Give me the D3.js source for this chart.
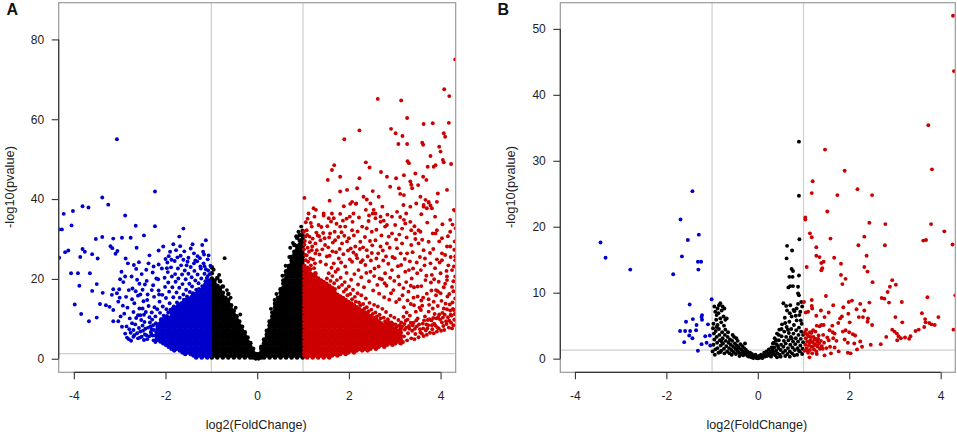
<!DOCTYPE html>
<html>
<head>
<meta charset="utf-8">
<script src="https://cdn.jsdelivr.net/npm/d3@7"></script>
<style>
body { margin: 0; background: #fff; }
svg { display: block; }
text { font-family: "Liberation Sans", Arial, Helvetica, sans-serif; }
</style>
</head>
<body>
<div id="chart"></div>
<script>
// ------------------------------- //
// Data
// ------------------------------- //

var xTicks = [-4, -2, 0, 2, 4]
var aYTicks = [0, 20, 40, 60, 80]
var bYTicks = [0, 10, 20, 30, 40, 50]
var fcCut = [-1, 1]      // log2 fold change cut-offs
var pCut = 1.3           // -log10(0.05)

// dense clouds: [x, y1, y2, ...] one column of points per entry
var aBlackCols = [
  [-0.99,0.3,1.2,2.1,3,3.9,4.8,5.7,6.6,7.5,8.4,9.3,10.2,11.1,12,12.9,13.8,14.7,15.6,16.5,17.4,18.3,19.2,20.1,21.4,22.9],
  [-0.93,0.8,1.6,2.5,3.5,4.3,5.3,6.1,7,8,8.8,9.8,10.6,11.6,12.4,13.4,14.2,15.2,16,17,17.8,18.8,19.6],
  [-0.87,0.3,1.2,2.1,3,3.9,4.8,5.7,6.6,7.5,8.4,9.3,10.2,11.1,12,12.9,13.8,14.7,15.6,16.5,17.4,18.3,20.2],
  [-0.81,0.8,1.6,2.5,3.5,4.3,5.3,6.1,7,8,8.8,9.8,10.6,11.6,12.4,13.4,14.2,15.2,16,17,17.8,19.4],
  [-0.75,0.3,1.2,2.1,3,3.9,4.8,5.7,6.6,7.5,8.4,9.3,10.2,11.1,12,12.9,13.8,14.7,15.6,16.5,18.1],
  [-0.69,0.8,1.6,2.5,3.5,4.3,5.3,6.1,7,8,8.8,9.8,10.6,11.6,12.4,13.4,14.2,15.2],
  [-0.63,0.3,1.2,2.1,3,3.9,4.8,5.7,6.6,7.5,8.4,9.3,10.2,11.1,12,12.9,13.8,14.7,16.2],
  [-0.57,0.8,1.6,2.5,3.5,4.3,5.3,6.1,7,8,8.8,9.8,10.6,11.6,12.4,13.4],
  [-0.51,0.3,1.2,2.1,3,3.9,4.8,5.7,6.6,7.5,8.4,9.3,10.2,11.1,12],
  [-0.45,0.8,1.6,2.5,3.5,4.3,5.3,6.1,7,8,8.8,9.8,10.6],
  [-0.39,0.3,1.2,2.1,3,3.9,4.8,5.7,6.6,7.5,8.4,9.3],
  [-0.33,0.8,1.6,2.5,3.5,4.3,5.3,6.1,7,8],
  [-0.27,0.3,1.2,2.1,3,3.9,4.8,5.7,6.6],
  [-0.21,0.8,1.6,2.5,3.5,4.3,5.3],
  [-0.15,0.3,1.2,2.1,3,3.9],
  [-0.09,0.3,0.8,1.6,2.5],
  [-0.03,0.1,0.6,1.2],
  [0.03,0.1,0.6,1.1],
  [0.09,0.3,0.8,1.6,2.5,3],
  [0.15,0.3,1.2,2.1,3,3.9,4.8],
  [0.21,0.8,1.6,2.5,3.5,4.3,5.3,6.1,7],
  [0.27,0.3,1.2,2.1,3,3.9,4.8,5.7,6.6,7.5,8.4,9.3],
  [0.33,0.8,1.6,2.5,3.5,4.3,5.3,6.1,7,8,8.8,9.8,10.6,11.6],
  [0.39,0.3,1.2,2.1,3,3.9,4.8,5.7,6.6,7.5,8.4,9.3,10.2,11.1,12,12.9,13.8],
  [0.45,0.8,1.6,2.5,3.5,4.3,5.3,6.1,7,8,8.8,9.8,10.6,11.6,12.4,13.4,14.2,15.2],
  [0.51,0.3,1.2,2.1,3,3.9,4.8,5.7,6.6,7.5,8.4,9.3,10.2,11.1,12,12.9,13.8,14.7,15.6,16.5,17.4],
  [0.57,0.8,1.6,2.5,3.5,4.3,5.3,6.1,7,8,8.8,9.8,10.6,11.6,12.4,13.4,14.2,15.2,16,17,17.8,18.8,19.6],
  [0.63,0.3,1.2,2.1,3,3.9,4.8,5.7,6.6,7.5,8.4,9.3,10.2,11.1,12,12.9,13.8,14.7,15.6,16.5,17.4,18.3,19.2,20.1,21,21.9],
  [0.69,0.8,1.6,2.5,3.5,4.3,5.3,6.1,7,8,8.8,9.8,10.6,11.6,12.4,13.4,14.2,15.2,16,17,17.8,18.8,19.6,20.6,21.4,22.4,23.2],
  [0.75,0.3,1.2,2.1,3,3.9,4.8,5.7,6.6,7.5,8.4,9.3,10.2,11.1,12,12.9,13.8,14.7,15.6,16.5,17.4,18.3,19.2,20.1,21,21.9,22.8,23.7,24.6,25.5],
  [0.81,0.8,1.6,2.5,3.5,4.3,5.3,6.1,7,8,8.8,9.8,10.6,11.6,12.4,13.4,14.2,15.2,16,17,17.8,18.8,19.6,20.6,21.4,22.4,23.2,24.2,25,26,26.8,28.5],
  [0.87,0.3,1.2,2.1,3,3.9,4.8,5.7,6.6,7.5,8.4,9.3,10.2,11.1,12,12.9,13.8,14.7,15.6,16.5,17.4,18.3,19.2,20.1,21,21.9,22.8,23.7,24.6,25.5,26.4,27.3,28.2,30.3],
  [0.93,0.8,1.6,2.5,3.5,4.3,5.3,6.1,7,8,8.8,9.8,10.6,11.6,12.4,13.4,14.2,15.2,16,17,17.8,18.8,19.6,20.6,21.4,22.4,23.2,24.2,25,26,26.8,27.8,28.6,29.6,31],
  [0.99,0.3,1.2,2.1,3,3.9,4.8,5.7,6.6,7.5,8.4,9.3,10.2,11.1,12,12.9,13.8,14.7,15.6,16.5,17.4,18.3,19.2,20.1,21,21.9,22.8,23.7,24.6,25.5,26.4,27.3,28.2,29.1,30,30.9,32]
]

var aBlueCols = [
  [-1.03,0.8,1.6,2.5,3.5,4.3,5.3,6.1,7,8,8.8,9.8,10.6,11.6,12.4,13.4,14.2,15.2,16,17,17.8,18.8],
  [-1.09,0.3,1.2,2.1,3,3.9,4.8,5.7,6.6,7.5,8.4,9.3,10.2,11.1,12,12.9,13.8,14.7,15.6,16.5,17.4,18.3],
  [-1.15,0.8,1.6,2.5,3.5,4.3,5.3,6.1,7,8,8.8,9.8,10.6,11.6,12.4,13.4,14.2,15.2,16,17,17.8],
  [-1.21,0.3,1.2,2.1,3,3.9,4.8,5.7,6.6,7.5,8.4,9.3,10.2,11.1,12,12.9,13.8,14.7,15.6,16.5],
  [-1.27,0.8,1.6,2.5,3.5,4.3,5.3,6.1,7,8,8.8,9.8,10.6,11.6,12.4,13.4,14.2,15.2,16],
  [-1.33,0.3,1.2,2.1,3,3.9,4.8,5.7,6.6,7.5,8.4,9.3,10.2,11.1,12,12.9,13.8,14.7,15.6],
  [-1.39,0.8,1.6,2.5,3.5,4.3,5.3,6.1,7,8,8.8,9.8,10.6,11.6,12.4,13.4,14.2,15.2],
  [-1.45,1.2,2.1,3,3.9,4.8,5.7,6.6,7.5,8.4,9.3,10.2,11.1,12,12.9,13.8,14.7],
  [-1.51,1.6,2.5,3.5,4.3,5.3,6.1,7,8,8.8,9.8,10.6,11.6,12.4,13.4,14.2],
  [-1.57,1.2,2.1,3,3.9,4.8,5.7,6.6,7.5,8.4,9.3,10.2,11.1,12,12.9,13.8],
  [-1.63,1.6,2.5,3.5,4.3,5.3,6.1,7,8,8.8,9.8,10.6,11.6,12.4,13.4],
  [-1.69,2.1,3,3.9,4.8,5.7,6.6,7.5,8.4,9.3,10.2,11.1,12,12.9],
  [-1.75,2.5,3.5,4.3,5.3,6.1,7,8,8.8,9.8,10.6,11.6,12.4],
  [-1.81,2.1,3,3.9,4.8,5.7,6.6,7.5,8.4,9.3,10.2,11.1,12],
  [-1.87,2.5,3.5,4.3,5.3,6.1,7,8,8.8,9.8,10.6,11.6],
  [-1.93,3,3.9,4.8,5.7,6.6,7.5,8.4,9.3,10.2],
  [-1.99,3.5,4.3,5.3,6.1,7,8,8.8,9.8],
  [-2.05,3.9,4.8,5.7,6.6,7.5,8.4,9.3],
  [-2.11,4.3,5.3,6.1,7,8,8.8],
  [-2.17,4.8,5.7,6.6,7.5]
]

var aRedCols = [
  [1.03,0.8,1.6,2.5,3.5,4.3,5.3,6.1,7,8,8.8,9.8,10.6,11.6,12.4,13.4,14.2,15.2,16,17,17.8,18.8,19.6,20.6,21.4,22.4,23.2],
  [1.09,0.3,1.2,2.1,3,3.9,4.8,5.7,6.6,7.5,8.4,9.3,10.2,11.1,12,12.9,13.8,14.7,15.6,16.5,17.4,18.3,19.2,20.1,21,21.9,22.8],
  [1.15,0.8,1.6,2.5,3.5,4.3,5.3,6.1,7,8,8.8,9.8,10.6,11.6,12.4,13.4,14.2,15.2,16,17,17.8,18.8,19.6,20.6,21.4,22.4],
  [1.21,0.3,1.2,2.1,3,3.9,4.8,5.7,6.6,7.5,8.4,9.3,10.2,11.1,12,12.9,13.8,14.7,15.6,16.5,17.4,18.3,19.2,20.1,21],
  [1.27,0.8,1.6,2.5,3.5,4.3,5.3,6.1,7,8,8.8,9.8,10.6,11.6,12.4,13.4,14.2,15.2,16,17,17.8,18.8,19.6,20.6,21.4],
  [1.33,0.3,1.2,2.1,3,3.9,4.8,5.7,6.6,7.5,8.4,9.3,10.2,11.1,12,12.9,13.8,14.7,15.6,16.5,17.4,18.3,19.2,20.1],
  [1.39,0.8,1.6,2.5,3.5,4.3,5.3,6.1,7,8,8.8,9.8,10.6,11.6,12.4,13.4,14.2,15.2,16,17,17.8,18.8,19.6],
  [1.45,0.3,1.2,2.1,3,3.9,4.8,5.7,6.6,7.5,8.4,9.3,10.2,11.1,12,12.9,13.8,14.7,15.6,16.5,17.4,18.3,19.2],
  [1.51,0.8,1.6,2.5,3.5,4.3,5.3,6.1,7,8,8.8,9.8,10.6,11.6,12.4,13.4,14.2,15.2,16,17,17.8,18.8],
  [1.57,0.3,1.2,2.1,3,3.9,4.8,5.7,6.6,7.5,8.4,9.3,10.2,11.1,12,12.9,13.8,14.7,15.6,16.5,17.4,18.3],
  [1.63,0.8,1.6,2.5,3.5,4.3,5.3,6.1,7,8,8.8,9.8,10.6,11.6,12.4,13.4,14.2,15.2,16,17,17.8],
  [1.69,1.2,2.1,3,3.9,4.8,5.7,6.6,7.5,8.4,9.3,10.2,11.1,12,12.9,13.8,14.7,15.6,16.5,17.4],
  [1.75,0.8,1.6,2.5,3.5,4.3,5.3,6.1,7,8,8.8,9.8,10.6,11.6,12.4,13.4,14.2,15.2,16],
  [1.81,1.2,2.1,3,3.9,4.8,5.7,6.6,7.5,8.4,9.3,10.2,11.1,12,12.9,13.8,14.7,15.6],
  [1.87,1.6,2.5,3.5,4.3,5.3,6.1,7,8,8.8,9.8,10.6,11.6,12.4,13.4,14.2,15.2],
  [1.93,1.2,2.1,3,3.9,4.8,5.7,6.6,7.5,8.4,9.3,10.2,11.1,12,12.9,13.8,14.7],
  [1.99,1.6,2.5,3.5,4.3,5.3,6.1,7,8,8.8,9.8,10.6,11.6,12.4,13.4,14.2],
  [2.05,2.1,3,3.9,4.8,5.7,6.6,7.5,8.4,9.3,10.2,11.1,12,12.9,13.8],
  [2.11,1.6,2.5,3.5,4.3,5.3,6.1,7,8,8.8,9.8,10.6,11.6,12.4,13.4],
  [2.17,2.1,3,3.9,4.8,5.7,6.6,7.5,8.4,9.3,10.2,11.1,12,12.9],
  [2.23,2.5,3.5,4.3,5.3,6.1,7,8,8.8,9.8,10.6,11.6,12.4],
  [2.29,2.1,3,3.9,4.8,5.7,6.6,7.5,8.4,9.3,10.2,11.1,12],
  [2.35,2.5,3.5,4.3,5.3,6.1,7,8,8.8,9.8,10.6,11.6],
  [2.41,2.1,3,3.9,4.8,5.7,6.6,7.5,8.4,9.3,10.2,11.1],
  [2.47,2.5,3.5,4.3,5.3,6.1,7,8,8.8,9.8,10.6],
  [2.53,3,3.9,4.8,5.7,6.6,7.5,8.4,9.3,10.2],
  [2.59,2.5,3.5,4.3,5.3,6.1,7,8,8.8,9.8],
  [2.65,3,3.9,4.8,5.7,6.6,7.5,8.4,9.3],
  [2.71,3.5,4.3,5.3,6.1,7,8,8.8],
  [2.77,3,3.9,4.8,5.7,6.6,7.5,8.4],
  [2.83,3.5,4.3,5.3,6.1,7,8,8.8],
  [2.89,3.9,4.8,5.7,6.6,7.5,8.4],
  [2.95,3.5,4.3,5.3,6.1,7,8],
  [3.01,3.9,4.8,5.7,6.6,7.5],
  [3.07,4.3,5.3,6.1,7],
  [3.13,3.9,4.8,5.7,6.6,7.5]
]

// loose points: [log2FC, -log10 p]
var aBlackPts = [[-0.71,25.2],[-0.37,11.1],[-0.95,22.3],[-0.83,21],[-0.66,17.2],[-0.58,15.3],[-0.47,12.8],
  [0.3,12.5],[0.38,14.7],[0.42,16.2],[0.55,20.8],[0.62,23.3],[0.7,25.5],[0.72,27.8],[0.78,29],[0.85,30.7],[0.9,31.8],[0.96,33.1]]

var aBluePts = [[-3.06,55],[-2.23,41.9],[-4.22,36.3],[-4.02,37],[-4.32,32.4],[-4.26,32.4],[-4.05,33.4],[-3.81,38.2],[-3.68,37.9],
  [-3.38,40.4],[-3.25,38.6],[-2.88,35.9],[-2.65,33.3],[-2.23,33.2],[-1.61,32.6],[-4.19,26.7],[-4.12,27.1],[-4.32,25.3],[-3.81,27.5],
  [-3.76,26.8],[-3.52,30],[-3.38,30.5],[-3.14,30.1],[-2.95,30.3],[-2.76,30.3],[-2.47,30.9],[-3.2,28.2],[-3.16,27.7],[-3.09,26.3],
  [-3.05,27],[-2.63,27.8],[-3.86,25.5],[-3.6,26.2],[-3.48,25.1],[-4.06,21.4],[-3.91,21.4],[-3.65,21.4],[-3.88,18.3],[-3.6,17],
  [-3.5,18.7],[-3.37,16.5],[-3.98,13.6],[-3.84,11.2],[-3.67,9.4],[-3.5,10.3],[-3.43,13.7],[-3.3,13.4],[-3.22,13],[-3.14,17.4],
  [-3.01,17.4],[-3.17,16],[-3.06,16.4],[-3.14,12.2],[-3.03,14.3],[-3.14,9.4],[-3.03,9.4],[-2.95,8],[-2.87,25.1],[-2.82,23.9],
  [-2.69,23.5],[-2.64,22.5],[-2.88,20.6],[-2.74,20.6],[-2.84,5.3],[-2.75,4.5],[-2.8,4.9],[-2.7,7.2],[-2.7,5.5],[-2.55,10.9],
  [-2.43,11.7],[-2.37,23.9],[-2.26,23.1],[-2.15,27.1],[-2.05,28.1],[-1.93,25.7],[-1.83,28.7],[-1.77,27.2],[-1.7,30.6],[-1.61,24.8],
  [-1.5,25.3],[-1.38,23.9],[-1.3,25.7],[-1.2,28.5],[-1.12,29.7],[-1.24,23.1],[-1.15,23.2],[-1.08,20.7],
  [-2.92,19.2],[-2.86,15.5],[-2.83,12.8],[-2.78,10.1],[-2.72,17.6],[-2.68,13.9],[-2.66,8.6],[-2.62,19.8],[-2.6,15.8],[-2.57,12.6],
  [-2.55,6.8],[-2.52,21.2],[-2.5,17.3],[-2.48,14.4],[-2.46,9.2],[-2.44,7.5],[-2.41,19.5],[-2.39,16.1],[-2.37,13.2],[-2.35,10.4],
  [-2.33,8.1],[-2.31,6.2],[-2.96,21.8],[-2.9,11.3],[-2.76,6.5],[-2.58,24.2],[-2.52,5.5],[-2.42,22.3],
  [-2.28,21.6],[-2.27,18.4],[-2.25,15.5],[-2.24,12.9],[-2.22,10.6],[-2.21,8.9],[-2.2,6.6],[-2.19,5.1],[-2.16,19.9],[-2.15,17.1],
  [-2.13,14.3],[-2.12,11.5],[-2.1,9.9],[-2.08,22.6],[-2.07,16],[-2.06,13.1],[-2.04,10.8],[-2.02,20.3],[-2.01,18],[-1.99,15.2],
  [-1.98,12.4],[-1.96,24.1],[-1.95,21.7],[-1.94,19.1],[-1.92,16.8],[-1.91,13.9],[-1.89,11.9],[-1.88,22.9],[-1.86,20.6],[-1.85,17.9],
  [-1.83,15.4],[-1.82,13.1],[-1.8,24.5],[-1.79,21.2],[-1.78,19.3],[-1.76,16.6],[-1.75,14.1],[-1.73,22.6],[-1.72,20.1],[-1.7,17.8],
  [-1.69,15.3],[-1.67,25.8],[-1.66,23.4],[-1.64,21.1],[-1.63,18.7],[-1.61,16.1],[-1.6,14.8],[-1.58,22.1],[-1.56,19.9],[-1.55,17.3],
  [-1.53,15.6],[-1.52,24.3],[-1.5,21.3],[-1.48,18.8],[-1.47,16.7],[-1.45,23],[-1.43,20.4],[-1.42,18.1],[-1.4,16.4],[-1.38,26.4],
  [-1.37,22],[-1.35,19.6],[-1.33,17.3],[-1.31,24.4],[-1.3,21.1],[-1.28,18.9],[-1.27,17.5],[-1.25,25.2],[-1.23,22.6],[-1.22,20.1],
  [-1.2,18.2],[-1.18,26.8],[-1.17,23.9],[-1.15,21.3],[-1.13,19.4],[-1.12,22.4],[-1.1,20.2],[-1.08,24.9],[-1.07,22.1],[-1.05,19.6],
  [-1.04,21.2],[-1.02,23.3],[-1.45,27.6],[-1.9,26.8],[-2.35,25.9],[-1.68,28.2],[-2,25],
  [-2.26,4.6],[-2.3,7.4],[-2.36,5.6],[-2.4,4.9],[-2.45,6.1],[-2.5,8.3],[-2.56,5.3],[-2.62,6.4],[-2.64,10.2],[-2.34,9.1],[-2.28,5.8],[-2.22,4.2],
  [-1.06,19.6],[-1.11,19],[-1.14,18.6],[-1.19,17.6],[-1.24,17.2],[-1.29,16.8],[-1.32,16.4],[-1.36,16.2],[-1.41,15.9],[-1.44,15.4],
  [-1.49,15.1],[-1.54,14.9],[-1.59,14.4],[-1.62,14.1],[-1.66,13.9],[-1.71,13.6],[-1.74,13.2],[-1.78,12.7],[-1.84,12.6],[-1.89,12.3],
  [-1.94,11.6],[-1.97,10.7],[-2.02,10.2],[-2.07,9.9],[-2.1,9.6],[-2.14,8.7],[-2.18,8.2],[-2.2,4.6],[-2.23,5.8],[-2.25,7.2],[-2.27,8.4],
  [-2.29,9.8],[-2.32,6.7],[-2.38,7.8],[-2.42,5.9],[-2.47,4.7],[-2.49,7],[-2.53,9.7],[-2.58,7.7],[-2.6,5.1],[-2.68,5.9],[-2.73,8.9],
  [-2.79,7.4],[-2.85,8.1],[-2.88,6.3],[-2.98,10.6],[-2.93,13.3],[-3,15.3],[-2.99,19.9],[-2.8,17.2],[-2.65,16.9],[-2.7,11.7],
  [-2.6,10.9],[-2.47,11],[-2.3,11.6],[-2.18,12.4],[-2.14,16.1],[-2.2,20.1],[-2.3,17.2],[-2.4,14.7],[-2.45,18.6],[-2.5,12.6],
  [-2.55,16.1],[-2.15,23.6],[-1.97,22.7],[-1.87,24.8],[-1.59,26.9],[-1.54,23.4],[-1.35,24.6],[-1.16,26.1],[-1.06,25.9],[-1.41,28.7],
  [-1.74,25.4],[-2.57,18.8],[-2.73,14.9]]

var aRedPts = [[4.32,75],[4.08,67.5],[4.19,65.8],[2.63,65.1],[3.14,64.7],[3.27,60.3],[4.18,59.1],[3.83,59],[3.63,58.8],[2.23,57.2],
  [2.92,57.6],[3.02,56.5],[3.17,55.8],[1.9,55],[4.07,56.5],[4.1,55.6],[3.6,54.1],[3.62,53.6],[3.08,53.8],[3.27,53.8],[3.97,53.1],
  [4,51.9],[3.78,50.8],[4.23,48.8],[4.05,49.8],[4.07,49.2],[3.28,49.5],[3.31,49],[2.37,49.2],[2.45,47.9],[1.68,48.5],[2.7,46.8],
  [2.83,45.6],[3.03,45.2],[3.72,48.1],[3.85,48.1],[3.89,48.5],[3.45,46.4],[3.62,45.6],[3.69,44.8],[3.2,46],[1.63,47.3],[1.81,45.6],
  [1.54,44.8],[3.34,44.4],[3.36,43.6],[3.38,42.7],[3.51,43.5],[2.23,45.2],[1.96,42.3],[2.18,42.7],[1.81,41.9],[2.52,42],[2.32,40.6],
  [2.39,39.9],[2.47,38.9],[2.65,40.6],[2.9,43.1],[3.09,42.7],[3.12,41.3],[3.2,41],[3.56,40.6],[3.67,39.8],[3.74,39.1],[3.78,38.4],
  [3.7,37.7],[3.63,38.1],[3.92,39.3],[3.94,41.4],[4.14,42.3],[4.32,37.1],[1.03,40.3],[1.23,37.7],[2.07,39.3],[2.15,38.8],[2.1,36.4],
  [2.02,35.6],[2.54,37.3],[2.58,36.4],[2.69,35.6],[2.76,34.6],[2.83,33.5],[3.05,36.8],[3.12,35.5],[3.2,34.8],[3.34,34.3],[3.43,33.2],
  [3.52,32.2],[3.83,31.4],[3.92,32.2],[4.21,34.8],[4.33,32.7],[1.63,36.4],[1.67,35.2],[1.81,33.1],[1.45,36.4],[4.32,24.7],[4.29,23.1],
  [4.14,28.1],[4.03,24.7],[4.32,20.6],[4.25,18],[4.14,19.7],[4.32,15.1],[4.29,12.2],[4.32,9.7],[4.25,7.6],[4,16.4],[3.85,14.3],
  [3.74,11.8],[4.07,12.6],
  [1.12,36.4],[1.45,35.9],[1.56,35.2],[1.81,36.3],[2.03,38.8],[2.16,38.9],[2.37,37.3],[2.52,36.4],[2.58,35.2],[3.19,38.5],[3.34,38.1],
  [3.47,38.9],[3.63,38.5],[3.74,39.3],[2.94,35.6],[3.01,33.5],[3.23,33.9],[3.81,37.7],[4.29,37.3],[1.02,31.8],[1.08,32.2],[1.19,33.1],
  [1.34,33.5],[1.59,31.4],[1.69,31.8],[1.92,33.1],[2.07,32.2],[2.29,33.1],[2.39,32.7],[2.5,31.8],[2.69,34.3],[2.79,33.1],[2.94,31.4],
  [3.36,32.2],[3.44,31.4],[3.56,31.8],[3.89,31.4],[4.03,30.2],[4.21,31.8],[1.27,28.9],[1.38,29.7],[1.48,28.5],[1.7,29.7],[1.85,28.9],
  [2,30.2],[2.14,28.1],[2.25,29.3],[2.39,27.2],[2.58,29.7],[2.69,28.1],[2.83,28.9],[3.05,27.7],[3.16,28.9],[3.27,26.4],[3.52,28.9],
  [3.63,27.2],[3.74,29.3],[4.03,26.4],[4.21,28.1],[4.32,25.6],[1.05,26],[1.16,25.1],[1.27,26.4],[1.38,24.3],[1.52,25.6],[1.67,23.9],
  [1.78,25.1],[1.92,23.1],[2.07,24.3],[2.21,22.2],[2.36,23.5],[2.47,21.8],[2.65,23.1],[2.79,21.4],[2.94,22.2],[3.08,20.6],[3.23,21.8],
  [3.37,20.1],[3.49,21.4],[3.67,19.7],[3.81,21],[3.96,19.3],[4.14,20.6],[4.25,22.2],
  [1.04,29.5],[1.1,27.8],[1.14,30.6],[1.2,28.1],[1.22,24.9],[1.3,27.2],[1.32,30.9],[1.36,26.1],[1.42,27.4],[1.44,31.5],[1.5,23.6],
  [1.55,27.9],[1.58,25.8],[1.62,22.8],[1.65,29.1],[1.72,26.7],[1.76,22.4],[1.8,27.5],[1.83,24.1],[1.88,26.2],[1.9,30.8],[1.95,21.5],
  [1.98,27.1],[2.02,24.9],[2.05,19.8],[2.1,26.6],[2.12,21.2],[2.18,25.2],[2.2,18.6],[2.24,27.5],[2.27,20.4],[2.3,24.7],[2.33,17.9],
  [2.41,25.6],[2.44,19.4],[2.5,26.5],[2.53,17.1],[2.55,20.7],[2.6,25.1],[2.62,18.5],[2.66,16.3],[2.72,19.9],[2.75,24.6],[2.77,15.4],
  [2.82,18.3],[2.86,23.8],[2.88,14.8],[2.9,20.3],[2.97,17.2],[3,25.2],[3.03,14.2],[3.1,18.6],[3.14,23.5],[3.17,15.9],[3.2,12.9],
  [3.25,19.2],[3.3,16.8],[3.33,24.4],[3.35,13.7],[3.4,22.6],[3.42,17.9],[3.46,11.8],[3.5,15.6],[3.55,25.5],[3.58,18.2],[3.6,13.3],
  [3.65,23.4],[3.7,16.3],[3.72,9.7],[3.77,26.5],[3.79,19.1],[3.83,12.6],[3.88,22.7],[3.9,17.2],[3.95,10.4],[3.98,24.1],[4.02,14.5],
  [4.1,18.8],[4.12,9.4],[4.17,23.4],[4.2,13.6],[4.24,10.8],[4.28,16.9],[4.3,27.3],[3.36,28.5],[2.46,29.5],[1.95,35.1],[2.87,30.6],
  [3.1,31.1],
  [3.18,4.2],[3.2,5.6],[3.22,7.3],[3.24,9.5],[3.27,4.6],[3.29,6.4],[3.31,8.2],[3.33,10.8],[3.36,5.1],[3.38,7],[3.41,9],[3.43,4.9],
  [3.45,6.2],[3.48,8.1],[3.5,10.1],[3.52,5.4],[3.55,7.4],[3.57,12.2],[3.59,6.3],[3.61,8.8],[3.63,5.7],[3.66,10.6],[3.68,7.1],[3.7,6],
  [3.73,8.4],[3.75,13.5],[3.77,6.5],[3.8,9.6],[3.82,7.4],[3.85,6.4],[3.87,11.2],[3.89,8.3],[3.92,6.8],[3.94,13.2],[3.96,7.6],
  [3.99,9.8],[4.01,7],[4.04,11.5],[4.06,8.2],[4.08,7.2],[4.11,13.8],[4.13,8.7],[4.16,10.4],[4.18,7.8],[4.21,12.1],[4.23,9],
  [4.26,14.1],[4.28,8.4],[4.31,11.2],[4.15,15.6],[3.58,14.6],[3.26,11.6],[3.42,13.4],[3.9,15.9],
  [1.02,27.4],[1.06,24.7],[1.03,28.6],[1.08,25.9],[1.11,24.3],[1.13,26.8],[1.17,23.4],[1.19,27.2],[1.24,22.7],[1.26,23.9],[1.05,30.6],
  [1.09,31],[1.15,29.2],[1.21,30.1],
  [1.52,20.1],[1.56,21.4],[1.6,19.5],[1.64,20.7],[1.68,18.9],[1.71,21.8],[1.74,19.7],[1.78,17.9],[1.82,20.3],[1.85,18.5],[1.89,16.8],
  [1.91,19.2],[1.94,17.4],[1.97,15.9],[2,18.1],[2.03,16.2],[2.07,14.9],[2.09,17.3],[2.13,15.5],[2.15,14.3],[2.19,16.4],[2.22,14.1],
  [2.25,13.4],[2.27,15.9],[2.31,13.7],[2.34,12.6],[2.37,15.1],[2.39,12.9],[2.43,11.9],[2.45,14],[2.49,12.3],[2.52,11.2],[2.55,13.5],
  [2.58,11.6],[2.61,10.6],[2.63,13.1],[2.67,11],[2.69,10.1],[2.73,12.5],[2.76,10.3],[2.79,9.4],[2.81,11.7],[2.85,9.9],[2.87,9.2],
  [2.91,10.8],[2.93,9.1],[2.96,8.7],[2.99,10.3],[3.02,8.6],[3.05,8.1],[3.08,9.7],[3.11,8.4],[3.14,9.1],[3.16,8.1],[3.19,10.5],
  [3.21,8.7],[3.25,7.8],[3.28,9.8],[3.32,7.5],[3.35,9],[3.39,8.4],[3.44,7.5],[3.47,9.6],[3.53,8.6],[3.56,6.6],[3.62,7.6],[3.64,9.6],
  [3.69,8.6],[3.71,7.6],[3.76,9.9],[3.81,8.4],[3.84,10.2],[3.86,8.8],[3.91,10.1],[3.93,7.8],[3.97,11.1],[4.03,9.1],[4.05,10.3],
  [4.09,11],[4.14,12.4],[4.19,9.5],[4.22,11],[4.27,12.5],[4.3,9.8],
  [1.06,34.2],[1.1,35.1],[1.17,34],[1.25,35.6],[1.29,31.6],[1.35,30.7],[1.4,33],[1.47,30.2],[1.53,33.2],[1.57,30.4],[1.61,34.4],
  [1.64,26.9],[1.73,33.8],[1.77,30.5],[1.84,31.7],[1.87,34.6],[1.96,29.4],[2.04,27.6],[2.08,34.3],[2.11,30.9],[2.16,26],[2.19,31.9],
  [2.22,35.4],[2.26,24.2],[2.31,27.9],[2.35,30.5],[2.38,21.5],[2.43,34.5],[2.48,24.6],[2.51,28.4],[2.56,22.6],[2.6,32.3],[2.64,26.4],
  [2.67,20.1],[2.71,30.9],[2.74,27.1],[2.78,18.9],[2.81,25.6],[2.84,36.1],[2.89,27.8],[2.92,16.4],[2.95,25.5],[2.99,19.5],[3.03,29.9],
  [3.07,23.2],[3.1,14.9],[3.13,26.4],[3.16,32.6],[3.19,17.7],[3.22,25],[3.26,30.4],[3.28,14.6],[3.31,22.2],[3.35,18.3],[3.39,26.7],
  [3.41,15.3],[3.45,30],[3.48,24.1],[3.5,18.1],[3.54,12.8],[3.57,22.2],[3.6,29.8],[3.62,15.3],[3.66,25.1],[3.69,20.8],[3.71,34.1],
  [3.74,14.9],[3.78,23.9],[3.8,17.1],[3.84,27.5],[3.86,19.9],[3.88,35.6],[3.92,24.9],[3.94,16.9],[3.97,29.4],[4,21.4],[4.04,33.7],
  [4.07,17.9],[4.1,26],[4.13,22],[4.16,30.7],[4.19,16.2],[4.22,25.5],[4.26,33.6],[4.28,19.4],[4.31,29.4],[3.58,36.2],[3.25,36.4],
  [2.73,38.1],[2.44,35.9],[1.89,38.2],[1.58,39.6],[1.28,37.3]]

var bBlackPts = [[0.9,32.9],[0.9,24.7],[0.91,18.1],[0.64,17.1],[0.75,16.4],[0.63,15.2],[0.74,13.6],[0.77,13.3],[0.69,12.4],[0.76,12.4],
  [0.9,12.6],[0.71,11],[0.77,11],[0.67,10.8],[0.88,10.9],[0.88,9.9],[0.9,9.6],
  [-0.82,8.4],[-0.77,7.9],[-0.88,7.6],[-0.93,7.1],[-0.75,6.4],[-0.82,6.1],[-0.91,5.9],[-0.71,5.9],[-0.97,5.3],[-0.85,8.1],[-0.79,7.3],
  [-0.9,6.6],[-0.86,6.9],[-0.73,7.6],[-0.68,6.1],[-0.95,7.9],[-0.8,5.5],[-0.88,5.1],[-0.74,5],
  [-0.98,4.6],[-0.96,3.8],[-0.95,2.9],[-0.97,2.1],[-0.93,1.4],[-0.92,4.2],[-0.9,3.3],[-0.89,2.4],[-0.88,1.6],[-0.86,0.9],[-0.85,4.5],
  [-0.84,3.6],[-0.83,2.8],[-0.81,2],[-0.8,1.2],[-0.78,4],[-0.77,3.1],[-0.76,2.3],[-0.74,1.5],[-0.73,0.8],[-0.72,3.6],[-0.7,2.7],
  [-0.69,1.9],[-0.67,1.1],[-0.66,3.3],[-0.64,2.4],[-0.63,1.6],[-0.62,0.8],[-0.61,2.9],[-0.99,1.1],[-0.94,0.6],[-0.9,4.8],[-0.82,1],
  [-0.79,2.6],[-0.71,4.4],[-0.65,4],
  [-0.59,2.1],[-0.58,1.3],[-0.57,0.6],[-0.56,2.7],[-0.54,1.8],[-0.53,1],[-0.52,3.3],[-0.5,2.3],[-0.49,1.5],[-0.48,0.7],[-0.46,2],
  [-0.45,1.2],[-0.44,2.7],[-0.42,1.7],[-0.41,0.9],[-0.4,0.4],[-0.38,2.2],[-0.37,1.4],[-0.36,0.7],[-0.34,1.9],[-0.33,1.1],[-0.32,0.5],
  [-0.3,1.6],[-0.29,0.9],[-0.28,2.3],[-0.26,1.3],[-0.25,0.6],[-0.23,1.1],[-0.22,0.4],[-0.2,0.8],[-0.55,3.6],[-0.47,3.1],
  [-0.19,0.3],[-0.17,0.9],[-0.16,0.5],[-0.14,0.2],[-0.13,0.7],[-0.11,0.4],[-0.1,0.1],[-0.08,0.5],[-0.06,0.2],[-0.05,0.6],[-0.03,0.1],
  [-0.01,0.3],[0.01,0.05],[0.03,0.4],[0.05,0.15],[0.07,0.6],[0.08,0.3],[0.1,0.1],[0.12,0.5],[0.14,0.9],[0.15,0.3],[0.17,0.7],
  [0.19,1.1],[0.2,0.4],[0.22,0.8],[0.24,1.4],[0.25,0.5],[0.27,1],[0.29,0.3],[0.3,1.7],
  [0.31,0.7],[0.32,1.3],[0.33,2.3],[0.35,0.9],[0.36,1.7],[0.37,3.1],[0.38,0.5],[0.4,1.2],[0.41,2.2],[0.42,3.8],[0.43,0.8],[0.45,1.6],
  [0.46,2.8],[0.47,4.4],[0.48,0.6],[0.5,1.3],[0.51,2.1],[0.52,3.4],[0.53,5.2],[0.55,0.9],[0.56,1.8],[0.57,2.7],[0.58,4.1],[0.59,6.2],
  [0.6,1.2],[0.61,2.3],[0.62,3.3],[0.63,4.8],[0.64,7.3],[0.65,0.7],[0.66,1.6],[0.67,2.8],[0.68,3.9],[0.69,5.6],[0.7,1.1],[0.71,2.1],
  [0.72,3.3],[0.73,4.5],[0.74,6.4],[0.75,0.8],[0.76,1.7],[0.77,2.6],[0.78,3.8],[0.79,5.1],[0.8,7.2],[0.81,1.3],[0.82,2.2],[0.83,3.1],
  [0.84,4.3],[0.85,5.8],[0.86,0.6],[0.87,1.6],[0.88,2.6],[0.89,3.6],[0.9,4.7],[0.91,6.6],[0.92,1.1],[0.93,2],[0.94,3],[0.95,4.1],
  [0.96,5.3],[0.97,7.9],[0.98,1.5],[0.99,2.5],[0.99,3.6],[0.97,0.7],[0.56,8.4],[0.62,8],[0.71,8.1],[0.78,7.4],[0.85,7.6],[0.93,7.1],
  [0.95,8.6],[0.88,8.3],[0.6,5.4],[0.7,6.9],[0.83,6.5],[0.94,5.8],[0.66,4.4],[0.74,3.1],[0.52,4.5],[0.46,3.6],[0.4,2.8],[0.35,2.4],
  [0.44,1.9],[0.9,1.2],[0.8,0.5],[0.7,0.3],[0.6,0.4],[0.5,0.3],[0.42,0.2]]

var bBluePts = [[-3.44,17.6],[-3.33,15.3],[-2.79,13.5],[-1.43,25.4],[-1.69,21.1],[-1.53,18],[-1.29,18.8],[-1.66,15.5],[-1.85,12.8],
  [-1.31,14.7],[-1.24,14.7],[-1.3,13.5],[-1.01,9],[-1.49,8.2],[-1.22,6.6],[-1.23,6.3],[-1.22,5.9],[-1.42,6],[-1.57,5.6],[-1.34,5.1],
  [-1.09,5.2],[-1.7,4.2],[-1.59,4.2],[-1.48,4.2],[-1.35,4.3],[-1.5,3.5],[-1.43,3.1],[-1.15,3.4],[-1.05,3.5],[-1.61,2.5],[-1.23,2.2],
  [-1.12,2.4],[-1.04,2],[-1.31,1.2]]

var bRedPts = [[4.27,52],[4.29,43.6],[3.73,35.4],[3.81,28.7],[1.47,31.7],[1.9,28.5],[1.2,26.9],[1.18,25.1],[1.74,24.8],[2.18,25.7],
  [2.5,24.8],[1.52,22.3],[1.04,21.4],[1.04,21.1],[2.44,20.6],[2.79,20.4],[3.79,20.4],[4.08,19.3],[1.14,19],[1.18,18.4],[1.59,18.2],
  [2.33,18.5],[2.2,17.2],[2.78,17.2],[3.62,17.9],[3.68,18],[4.26,17.3],[1.28,16.9],[1.28,15.6],[1.35,15.4],[1.67,15.3],[2.38,15.6],
  [1.39,14.5],[1.44,14.7],[1.82,14.4],[1.07,13.9],[1.41,13.7],[1.39,13.4],[2.33,13.9],[2.4,13.2],[1.82,12.7],[1.92,12.1],[1.85,11.3],
  [2.51,11.6],[2.94,11.9],[3.02,11.2],[2.89,10.9],[2.84,10.1],[2.77,9.1],[2.87,8.5],[4.32,9.6],[3.71,9.3],[3.15,8.6],[1.49,9.5],
  [1.01,8.6],[1.18,8.9],[2.71,9.2],[1.99,8.6],[2.06,8.8],[2.24,8.3],[2.44,8.5],[1.65,8.1],[1.87,7.8],[2.16,7.5],[1.05,7],[1.1,7.1],
  [1.19,7.6],[1.18,8],[1.38,7.3],[1.55,7],[2.33,7.3],[1.98,6.8],[1.84,6.4],[2.21,6.3],[2.3,6.3],[2.41,6.1],[2.4,5.6],[3.01,6.3],
  [3.59,6.9],[3.95,6.3],[3.66,6],[3.67,5.5],[3.75,5.4],[3.8,5.2],[3.87,5.1],[3.16,5.5],[1.28,6.5],[1.46,6.3],[1.8,6.1],[1.76,5.4],
  [2.01,5.5],[2.5,5.1],[1.44,5.1],[1.63,5],[1.21,4.3],[1.14,4],[1.08,3.7],[1.03,4],[1.29,5],[1.35,4.9],[1.39,5.1],[1.57,4.3],
  [1.64,4],[1.68,3.8],[1.92,4.3],[1.86,4.1],[2,4],[2.08,3.7],[2.13,3.5],[1.65,3.1],[1.72,2.7],[1.55,2.8],[1.9,2.9],[1.97,2.4],
  [2.24,2.6],[2.28,1.8],[2.47,2.1],[2.69,2.2],[2.81,3.3],[2.94,4.4],[2.99,4.1],[3.04,3.8],[3.08,3.4],[3.13,3.1],[3.05,2.8],[3.22,3.2],
  [3.31,3],[3.34,3.4],[3.45,4.2],[3.52,4.4],[3.64,4.8],[4.28,4.4],[1.42,1.5],[1.58,1.8],[1.68,1.7],[1.29,0.7],[1.46,0.5],[1.6,0.8],
  [1.13,0.2],[1.77,1.1],[1.97,0.9],[2.03,0.8],[2.11,2.3],[2.17,1.4],
  [1.02,1.2],[1.04,2.1],[1.05,3.1],[1.07,1.6],[1.08,2.6],[1.1,0.9],[1.11,3.4],[1.12,2],[1.14,1.3],[1.15,2.8],[1.17,3.9],[1.18,1.8],
  [1.19,0.8],[1.2,2.5],[1.22,3.3],[1.23,1.4],[1.25,2.2],[1.26,4.1],[1.27,3],[1.28,1.1],[1.3,2.6],[1.31,1.8],[1.33,3.5],[1.34,2.3],
  [1.36,1.5],[1.03,3.8],[1.06,4.4],[1.09,1.2],[1.13,2.4],[1.16,3.3],[1.21,1.9],[1.24,2.9],[1.29,2],[1.32,3],[1.38,2.7],[1.4,1.9],
  [1.43,3.6],[1.45,2.4],[1.5,1.6],[1.52,3.2]]

// ------------------------------- //
// Drawing
// ------------------------------- //

var dotR = 1.95      // single points
var packR = 2.3      // points packed into the solid clouds

var svg = d3.select("#chart")
    .append("svg")
    .attr("width", 957)
    .attr("height", 438)

// turn [x, y1, y2...] columns into [x, y] points
function unfold(cols) {
    var out = []
    cols.forEach(function(c) {
        for (var k = 1; k < c.length; k++) out.push([c[0], c[k]])
    })
    return out
}

function drawPanel(p) {
    var x = d3.scaleLinear().domain(p.xDom).range([p.left, p.right])
    var y = d3.scaleLinear().domain(p.yDom).range([p.bottom, p.top])

    svg.append("clipPath").attr("id", "clip" + p.tag)
        .append("rect")
        .attr("x", p.left).attr("y", p.top)
        .attr("width", p.right - p.left).attr("height", p.bottom - p.top)

    var plot = svg.append("g").attr("clip-path", "url(#clip" + p.tag + ")")

    // cut-off lines under the points
    fcCut.forEach(function(v) {
        plot.append("line")
            .attr("x1", x(v)).attr("x2", x(v))
            .attr("y1", p.top).attr("y2", p.bottom)
            .attr("stroke", "#cfcfcf").attr("stroke-width", 1.2)
    })
    plot.append("line")
        .attr("x1", p.left).attr("x2", p.right)
        .attr("y1", y(pCut)).attr("y2", y(pCut))
        .attr("stroke", "#cfcfcf").attr("stroke-width", 1.2)

    p.sets.forEach(function(s) {
        plot.append("g")
            .selectAll("circle")
            .data(s.pts)
            .enter()
            .append("circle")
            .attr("cx", function(d) { return x(d[0]) })
            .attr("cy", function(d) { return y(d[1]) })
            .attr("r", s.r)
            .attr("fill", s.color)
    })

    // grey box
    svg.append("rect")
        .attr("x", p.left).attr("y", p.top)
        .attr("width", p.right - p.left).attr("height", p.bottom - p.top)
        .attr("fill", "none").attr("stroke", "#9a9a9a").attr("stroke-width", 1.2)

    // axes
    var fmt = function(d) { return String(d) }
    var gx = svg.append("g")
        .attr("transform", "translate(0," + p.bottom + ")")
        .call(d3.axisBottom(x).tickValues(xTicks).tickFormat(fmt).tickSize(7).tickSizeOuter(0).tickPadding(12))
    var gy = svg.append("g")
        .attr("transform", "translate(" + p.left + ",0)")
        .call(d3.axisLeft(y).tickValues(p.yTicks).tickFormat(fmt).tickSize(7).tickSizeOuter(0).tickPadding(7.5))
    ;[gx, gy].forEach(function(g) {
        g.select(".domain").remove()
        g.selectAll("line").attr("stroke", "#333").attr("stroke-width", 1.1)
        g.selectAll("text").attr("fill", "#222").attr("font-size", "12px")
            .attr("font-family", '"Liberation Sans", Arial, sans-serif')
    })
    svg.append("line")
        .attr("x1", x(xTicks[0])).attr("x2", x(xTicks[xTicks.length - 1]))
        .attr("y1", p.bottom).attr("y2", p.bottom)
        .attr("stroke", "#333").attr("stroke-width", 1.2)
    svg.append("line")
        .attr("x1", p.left).attr("x2", p.left)
        .attr("y1", y(p.yTicks[0])).attr("y2", y(p.yTicks[p.yTicks.length - 1]))
        .attr("stroke", "#333").attr("stroke-width", 1.2)

    // titles
    svg.append("text")
        .attr("x", (p.left + p.right) / 2 - 1)
        .attr("y", 429)
        .attr("text-anchor", "middle")
        .attr("font-size", "12.6px")
        .attr("fill", "#222")
        .text("log2(FoldChange)")
    svg.append("text")
        .attr("transform", "translate(" + p.titleX + "," + 187 + ") rotate(-90)")
        .attr("text-anchor", "middle")
        .attr("font-size", "12.8px")
        .attr("fill", "#222")
        .text("-log10(pvalue)")
    svg.append("text")
        .attr("x", p.tagX)
        .attr("y", 15)
        .attr("font-size", "16px")
        .attr("font-weight", "bold")
        .attr("fill", "#111")
        .text(p.tag)
}

drawPanel({
    tag: "A", tagX: 6.5, titleX: 13.5,
    left: 58.7, right: 455.7, top: 2.7, bottom: 372.3,
    xDom: [-4.33, 4.33], yDom: [-3.4, 89.2], yTicks: aYTicks,
    sets: [
        { color: "#000000", r: packR, pts: unfold(aBlackCols) },
        { color: "#000000", r: dotR, pts: aBlackPts },
        { color: "#0000cc", r: packR, pts: unfold(aBlueCols) },
        { color: "#0000cc", r: dotR, pts: aBluePts },
        { color: "#cc0000", r: packR, pts: unfold(aRedCols) },
        { color: "#cc0000", r: dotR, pts: aRedPts }
    ]
})

drawPanel({
    tag: "B", tagX: 497.5, titleX: 514.5,
    left: 560.3, right: 955.3, top: 2.7, bottom: 372.3,
    xDom: [-4.32, 4.32], yDom: [-2.07, 53.97], yTicks: bYTicks,
    sets: [
        { color: "#000000", r: dotR, pts: bBlackPts },
        { color: "#0000cc", r: dotR, pts: bBluePts },
        { color: "#cc0000", r: dotR, pts: bRedPts }
    ]
})
</script>
</body>
</html>
